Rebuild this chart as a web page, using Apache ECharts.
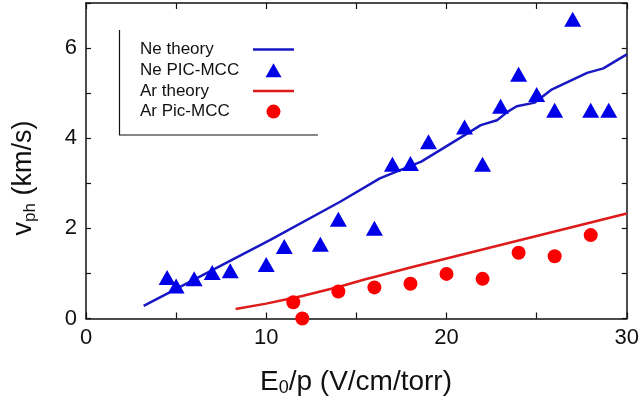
<!DOCTYPE html>
<html>
<head>
<meta charset="utf-8">
<script src="https://cdn.jsdelivr.net/npm/echarts/dist/echarts.min.js"></script>
<style>
  html, body { margin: 0; padding: 0; background: #fff; }
  #chart { width: 642px; height: 402px; }
</style>
</head>
<body>
<div id="chart"></div>
<script>
// Phase velocity vs. reduced field, Ne and Ar: theory curves and PIC-MCC results
const neTheoryX = [3.2, 10.2, 14.1, 16.3, 18.6, 21.3, 21.9, 22.8, 23.4, 23.9, 24.9, 25.8, 27.8, 28.7, 30];
const neTheoryY = [0.28, 1.74, 2.59, 3.11, 3.48, 4.14, 4.29, 4.40, 4.59, 4.71, 4.79, 5.07, 5.45, 5.55, 5.86];

const nePicX = [4.5, 5, 6, 7, 8, 10, 11, 13, 14, 16, 17, 18, 19, 21, 22, 23, 24, 25, 26, 27, 28, 29];
const nePicY = [0.91, 0.72, 0.88, 1.02, 1.06, 1.20, 1.60, 1.65, 2.20, 2.00, 3.42, 3.44, 3.92, 4.25, 3.42, 4.71, 5.42, 4.97, 4.62, 6.64, 4.62, 4.62];

const arTheoryX = [8.3, 10, 11.4, 12, 14, 15.5, 16, 18, 20, 22, 24, 26, 28, 30];
const arTheoryY = [0.21, 0.33, 0.45, 0.50, 0.70, 0.87, 0.92, 1.13, 1.33, 1.53, 1.73, 1.93, 2.13, 2.33];

const arPicX = [11.5, 12, 14, 16, 18, 20, 22, 24, 26, 28];
const arPicY = [0.36, 0.0, 0.60, 0.69, 0.77, 0.99, 0.88, 1.46, 1.38, 1.85];

const seriesNames = ['Ne theory', 'Ne PIC-MCC', 'Ar theory', 'Ar Pic-MCC'];

const xMin = 0, xMax = 30, xStep = 5;
const yMin = 0, yMax = 7, yStep = 1;

const FONT = 'Liberation Sans, Arial, sans-serif';
const INK = '#111';
const BLUE_LINE = '#1717c4';
const BLUE_MARK = '#0000e8';
const RED_LINE = '#de1a1a';
const RED_MARK = '#fb0000';

const pairs = (xs, ys) => xs.map((x, i) => [x, ys[i]]);
const triIcon = 'path://M8,0L16,14L0,14Z';
const lineIcon = 'path://M0,0H41V2.5H0Z';

const frameLine = { onZero: false, lineStyle: { color: INK, width: 1.5 } };
const tick = len => ({ inside: true, length: len, lineStyle: { color: INK, width: 1.2 } });

const chart = echarts.init(document.getElementById('chart'), null, { renderer: 'canvas' });

chart.setOption({
  animation: false,
  backgroundColor: '#fff',
  grid: { left: 86, right: 15, top: 3, bottom: 83.5, containLabel: false },
  xAxis: [
    {
      type: 'value', min: xMin, max: xMax, interval: xStep, position: 'bottom',
      axisLine: frameLine, axisTick: tick(6),
      axisLabel: {
        formatter: v => (v % 10 === 0 ? String(v) : ''),
        fontSize: 22, color: INK, fontFamily: FONT, margin: 8
      },
      splitLine: { show: false }
    },
    {
      type: 'value', min: xMin, max: xMax, interval: xStep, position: 'top',
      axisLine: frameLine, axisTick: tick(6),
      axisLabel: { show: false },
      splitLine: { show: false }
    }
  ],
  yAxis: [
    {
      type: 'value', min: yMin, max: yMax, interval: yStep, position: 'left',
      axisLine: frameLine, axisTick: tick(5),
      axisLabel: {
        formatter: v => (v % 2 === 0 ? String(v) : ''),
        fontSize: 22, color: INK, fontFamily: FONT, margin: 9
      },
      splitLine: { show: false }
    },
    {
      type: 'value', min: yMin, max: yMax, interval: yStep, position: 'right',
      axisLine: frameLine, axisTick: tick(5),
      axisLabel: { show: false },
      splitLine: { show: false }
    }
  ],
  legend: {
    orient: 'vertical',
    left: 140,
    top: 41,
    align: 'right',
    padding: 0,
    itemWidth: 41,
    itemHeight: 14,
    itemGap: 3.7,
    selectedMode: false,
    formatter: name => '{t|' + name + '}',
    textStyle: {
      rich: {
        t: { width: 108, align: 'left', fontSize: 17, lineHeight: 18, fontFamily: FONT, color: INK }
      }
    },
    data: [
      { name: seriesNames[0], icon: lineIcon },
      { name: seriesNames[1], icon: triIcon },
      { name: seriesNames[2], icon: lineIcon },
      { name: seriesNames[3], icon: 'circle' }
    ]
  },
  graphic: [
    {
      type: 'polyline', silent: true,
      shape: { points: [[119.5, 30], [119.5, 135], [318, 135]] },
      style: { stroke: INK, lineWidth: 1.2, fill: null }
    },
    {
      type: 'text', x: 356, y: 382, silent: true,
      style: {
        text: '{m|E}{s|0}{m|/p (V/cm/torr)}',
        align: 'center', verticalAlign: 'middle',
        fill: INK,
        rich: {
          m: { fontSize: 28, lineHeight: 30, fontFamily: FONT, fill: INK },
          s: { fontSize: 18, lineHeight: 8, verticalAlign: 'bottom', fontFamily: FONT, fill: INK }
        }
      }
    },
    {
      type: 'text', x: 24, y: 178, rotation: Math.PI / 2, silent: true,
      style: {
        text: '{m|v}{s|ph}{m| (km/s)}',
        align: 'center', verticalAlign: 'middle',
        fill: INK,
        rich: {
          m: { fontSize: 27, lineHeight: 30, fontFamily: FONT, fill: INK },
          s: { fontSize: 17, lineHeight: 14, verticalAlign: 'bottom', fontFamily: FONT, fill: INK }
        }
      }
    }
  ],
  series: [
    {
      name: seriesNames[0], type: 'line', xAxisIndex: 0, yAxisIndex: 0,
      data: pairs(neTheoryX, neTheoryY),
      symbol: 'none', showSymbol: false, smooth: false, z: 2,
      lineStyle: { color: BLUE_LINE, width: 2.5 },
      itemStyle: { color: BLUE_LINE }
    },
    {
      name: seriesNames[1], type: 'scatter', xAxisIndex: 0, yAxisIndex: 0,
      data: pairs(nePicX, nePicY),
      symbol: 'triangle', symbolSize: [17, 15], z: 4,
      itemStyle: { color: BLUE_MARK, opacity: 1 }
    },
    {
      name: seriesNames[2], type: 'line', xAxisIndex: 0, yAxisIndex: 0,
      data: pairs(arTheoryX, arTheoryY),
      symbol: 'none', showSymbol: false, smooth: false, z: 2,
      lineStyle: { color: RED_LINE, width: 2.5 },
      itemStyle: { color: RED_LINE }
    },
    {
      name: seriesNames[3], type: 'scatter', xAxisIndex: 0, yAxisIndex: 0,
      data: pairs(arPicX, arPicY),
      symbol: 'circle', symbolSize: 14, z: 4,
      itemStyle: { color: RED_MARK, opacity: 1 }
    }
  ]
});
</script>
</body>
</html>
